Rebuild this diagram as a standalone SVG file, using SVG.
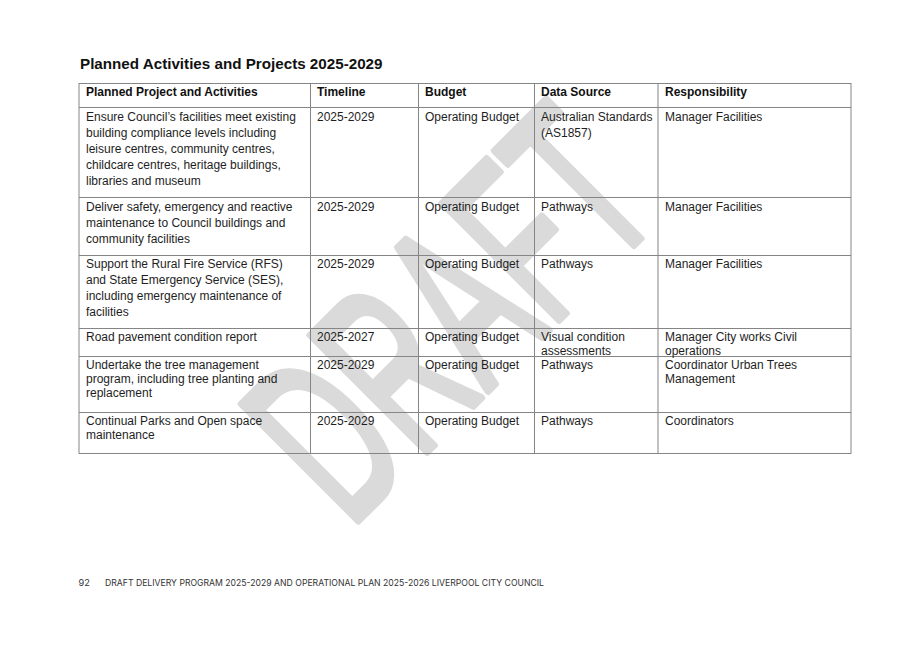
<svg xmlns="http://www.w3.org/2000/svg" width="917" height="648" viewBox="0 0 917 648">
<style>
.t{font-family:"Liberation Sans",Arial,sans-serif;font-size:12px;fill:#1e1e1e}
.h{font-family:"Liberation Sans",Arial,sans-serif;font-size:12px;font-weight:bold;fill:#111}
.title{font-family:"Liberation Sans",Arial,sans-serif;font-size:15.2px;font-weight:bold;fill:#111}
.foot{font-family:Inter,"Liberation Sans",sans-serif;font-size:9.2px;fill:#333}
.grid line{stroke:#858585;stroke-width:1}
.wm{font-family:"Liberation Sans",Arial,sans-serif;font-size:240px;fill:#dadada;stroke:#dadada;stroke-width:6;stroke-linejoin:round;vector-effect:non-scaling-stroke}
</style>
<rect width="917" height="648" fill="#ffffff"/>
<g id="watermark">
<text class="wm" transform="translate(349.6,529.4) rotate(-45) scale(0.56,1)">DRAFT</text>
</g>
<text id="title" class="title" x="80" y="69">Planned Activities and Projects 2025-2029</text>
<g id="connectors" class="grid">
<line x1="79" y1="83.5" x2="851" y2="83.5"/>
<line x1="79" y1="107.5" x2="851" y2="107.5"/>
<line x1="79" y1="197.5" x2="851" y2="197.5"/>
<line x1="79" y1="255.5" x2="851" y2="255.5"/>
<line x1="79" y1="328.5" x2="851" y2="328.5"/>
<line x1="79" y1="356.5" x2="851" y2="356.5"/>
<line x1="79" y1="412.5" x2="851" y2="412.5"/>
<line x1="79" y1="453.5" x2="851" y2="453.5"/>
<line x1="79" y1="83" x2="79" y2="454"/>
<line x1="310.5" y1="83" x2="310.5" y2="454"/>
<line x1="418.5" y1="83" x2="418.5" y2="454"/>
<line x1="534.5" y1="83" x2="534.5" y2="454"/>
<line x1="658" y1="83" x2="658" y2="454"/>
<line x1="851" y1="83" x2="851" y2="454"/>
</g>
<g id="header">
<text class="h" x="86" y="96">Planned Project and Activities</text>
<text class="h" x="317" y="96">Timeline</text>
<text class="h" x="425" y="96">Budget</text>
<text class="h" x="541" y="96">Data Source</text>
<text class="h" x="665" y="96">Responsibility</text>
</g>
<g id="row1">
<text class="t" x="86" y="120.5">Ensure Council’s facilities meet existing</text>
<text class="t" x="86" y="136.5">building compliance levels including</text>
<text class="t" x="86" y="152.5">leisure centres, community centres,</text>
<text class="t" x="86" y="168.5">childcare centres, heritage buildings,</text>
<text class="t" x="86" y="184.5">libraries and museum</text>
<text class="t" x="317" y="120.5">2025-2029</text>
<text class="t" x="425" y="120.5">Operating Budget</text>
<text class="t" x="541" y="120.5">Australian Standards</text>
<text class="t" x="541" y="136.5">(AS1857)</text>
<text class="t" x="665" y="120.5">Manager Facilities</text>
</g>
<g id="row2">
<text class="t" x="86" y="210.5">Deliver safety, emergency and reactive</text>
<text class="t" x="86" y="226.5">maintenance to Council buildings and</text>
<text class="t" x="86" y="242.5">community facilities</text>
<text class="t" x="317" y="210.5">2025-2029</text>
<text class="t" x="425" y="210.5">Operating Budget</text>
<text class="t" x="541" y="210.5">Pathways</text>
<text class="t" x="665" y="210.5">Manager Facilities</text>
</g>
<g id="row3">
<text class="t" x="86" y="268">Support the Rural Fire Service (RFS)</text>
<text class="t" x="86" y="284">and State Emergency Service (SES),</text>
<text class="t" x="86" y="300">including emergency maintenance of</text>
<text class="t" x="86" y="316">facilities</text>
<text class="t" x="317" y="268">2025-2029</text>
<text class="t" x="425" y="268">Operating Budget</text>
<text class="t" x="541" y="268">Pathways</text>
<text class="t" x="665" y="268">Manager Facilities</text>
</g>
<g id="row4">
<text class="t" x="86" y="340.5">Road pavement condition report</text>
<text class="t" x="317" y="340.5">2025-2027</text>
<text class="t" x="425" y="340.5">Operating Budget</text>
<text class="t" x="541" y="340.5">Visual condition</text>
<text class="t" x="541" y="354.5">assessments</text>
<text class="t" x="665" y="340.5">Manager City works Civil</text>
<text class="t" x="665" y="354.5">operations</text>
</g>
<g id="row5">
<text class="t" x="86" y="368.5">Undertake the tree management</text>
<text class="t" x="86" y="382.5">program, including tree planting and</text>
<text class="t" x="86" y="396.5">replacement</text>
<text class="t" x="317" y="368.5">2025-2029</text>
<text class="t" x="425" y="368.5">Operating Budget</text>
<text class="t" x="541" y="368.5">Pathways</text>
<text class="t" x="665" y="368.5">Coordinator Urban Trees</text>
<text class="t" x="665" y="382.5">Management</text>
</g>
<g id="row6">
<text class="t" x="86" y="424.5">Continual Parks and Open space</text>
<text class="t" x="86" y="438.5">maintenance</text>
<text class="t" x="317" y="424.5">2025-2029</text>
<text class="t" x="425" y="424.5">Operating Budget</text>
<text class="t" x="541" y="424.5">Pathways</text>
<text class="t" x="665" y="424.5">Coordinators</text>
</g>
<g id="footer">
<text class="foot" x="78.5" y="586">92</text>
<text class="foot" x="105" y="586" textLength="439" lengthAdjust="spacingAndGlyphs">DRAFT DELIVERY PROGRAM 2025-2029 AND OPERATIONAL PLAN 2025-2026 LIVERPOOL CITY COUNCIL</text>
</g>
</svg>
